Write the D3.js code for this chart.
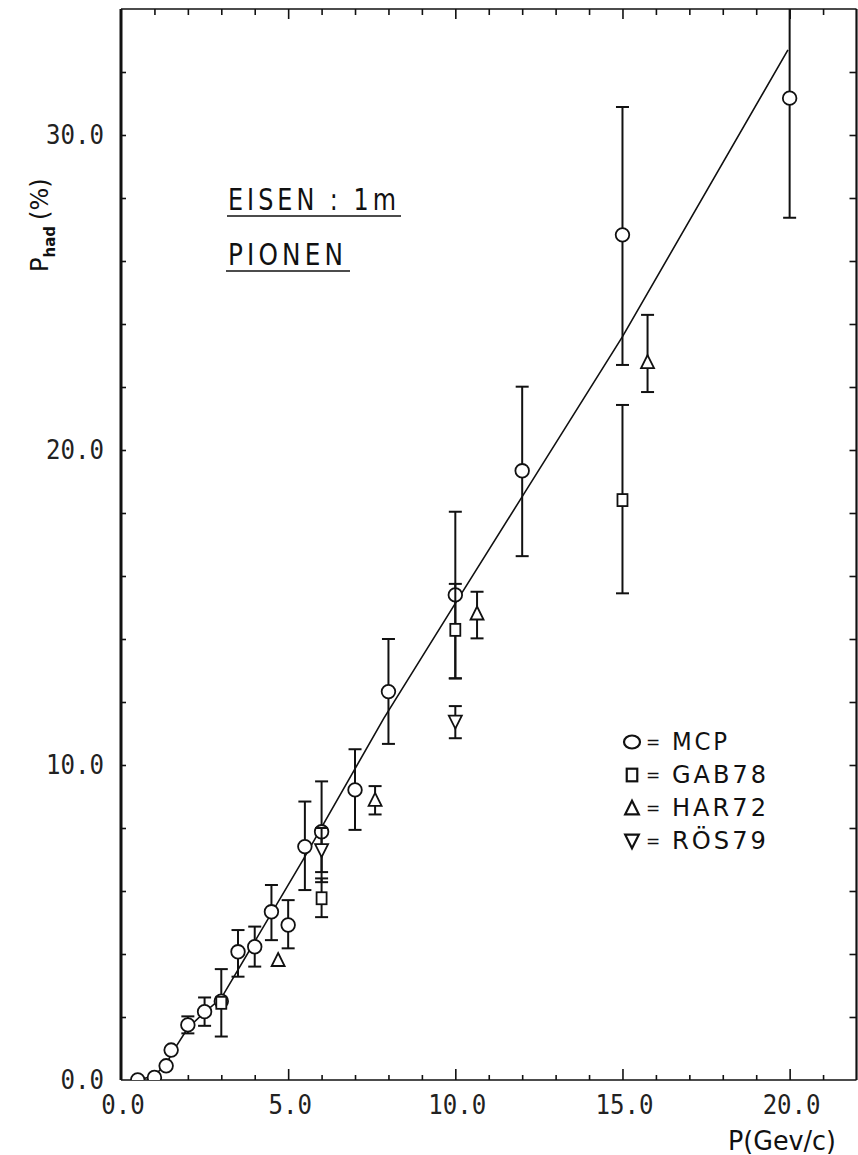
<!DOCTYPE html>
<html>
<head>
<meta charset="utf-8">
<script src="https://cdn.jsdelivr.net/npm/d3@7"></script>
<style>
  body { margin: 0; background: #fff; }
</style>
</head>
<body>
<div id="chart"></div>
<script>
// MCP (open circles)
const mcpX  = [0.5, 1.0, 1.35, 1.5, 2.0, 2.5, 3.0, 3.5, 4.0, 4.5, 5.0, 5.5, 6.0, 7.0, 8.0, 10.0, 12.0, 15.0, 20.0];
const mcpY  = [0.0, 0.08, 0.45, 0.95, 1.75, 2.17, 2.5, 4.07, 4.23, 5.34, 4.92, 7.41, 7.88, 9.21, 12.33, 15.4, 19.34, 26.83, 31.17];
const mcpLo = [null, null, null, null, 1.48, 1.72, 1.38, 3.28, 3.6, 4.44, 4.18, 6.03, 6.28, 7.94, 10.67, 12.75, 16.63, 22.7, 27.37];
const mcpHi = [null, null, null, null, 2.02, 2.62, 3.52, 4.76, 4.87, 6.19, 5.71, 8.84, 9.48, 10.5, 14.0, 18.04, 22.01, 30.89, 35.5];

// GAB78 (squares)
const gabX  = [3.0, 6.0, 10.0, 15.0];
const gabY  = [2.45, 5.77, 14.29, 18.41];
const gabLo = [null, 5.17, 12.75, 15.45];
const gabHi = [null, 6.4, 15.75, 21.43];

// HAR72 (triangles)
const harX  = [4.7, 7.6, 10.65, 15.75];
const harY  = [3.81, 8.89, 14.81, 22.79];
const harLo = [null, 8.43, 14.02, 21.84];
const harHi = [null, 9.33, 15.5, 24.29];

// RÖS79 (inverted triangles)
const rosX  = [6.0, 10.0];
const rosY  = [7.3, 11.38];
const rosLo = [6.6, 10.85];
const rosHi = [8.0, 11.87];

// drawn fit curve
const fitX = [0.55, 1.0, 1.35, 1.55, 2.0, 2.5, 3.0, 5.44, 7.86, 10.0, 12.0, 15.0, 19.95];
const fitY = [0.0, 0.15, 0.5, 0.9, 1.65, 2.15, 2.6, 6.98, 11.48, 15.13, 18.52, 23.6, 32.7];

// axes
const xLabels = [0, 5, 10, 15, 20];
const yLabels = [0, 10, 20, 30];
const xMinor = d3.range(1, 22);
const yMinor = d3.range(2, 34, 2);

const legendNames = ["MCP", "GAB78", "HAR72", "RÖS79"];
const legendShapes = ["circle", "square", "up", "down"];

const W = 858, H = 1155;
const mLeft = 121, mRight = 856.5, mTop = 9, mBottom = 1080;

const svg = d3.select("#chart").append("svg")
    .attr("width", W).attr("height", H)
    .style("font-family", "'DejaVu Sans', sans-serif");

const x = d3.scaleLinear().domain([0, 22]).range([mLeft, mRight]);
const y = d3.scaleLinear().domain([0, 34]).range([mBottom, mTop]);

svg.append("defs").append("clipPath").attr("id", "plot")
  .append("rect").attr("x", mLeft).attr("y", mTop)
  .attr("width", mRight - mLeft).attr("height", mBottom - mTop);

// Frame
const frame = svg.append("g").attr("stroke", "#111").attr("fill", "none");
frame.append("line").attr("x1", mLeft).attr("x2", mLeft).attr("y1", mTop).attr("y2", mBottom).attr("stroke-width", 3);
frame.append("line").attr("x1", mLeft).attr("x2", mRight).attr("y1", mBottom).attr("y2", mBottom).attr("stroke-width", 1.6);
frame.append("line").attr("x1", mLeft).attr("x2", mRight).attr("y1", mTop).attr("y2", mTop).attr("stroke-width", 1.6);
frame.append("line").attr("x1", mRight).attr("x2", mRight).attr("y1", mTop).attr("y2", mBottom).attr("stroke-width", 2.2);

function styleAxis(g) {
  g.select(".domain").remove();
  g.selectAll(".tick line").attr("stroke", "#111").attr("stroke-width", 1.6);
}

// bottom ticks
svg.append("g").attr("transform", `translate(0,${mBottom})`)
  .call(d3.axisBottom(x).tickValues(xMinor).tickSize(-5).tickFormat(""))
  .call(styleAxis)
  .call(g => g.selectAll(".tick line").filter(d => d % 5 === 0).attr("y2", -11));
// top ticks
svg.append("g").attr("transform", `translate(0,${mTop})`)
  .call(d3.axisTop(x).tickValues(xMinor).tickSize(-6).tickFormat(""))
  .call(styleAxis)
  .call(g => g.selectAll(".tick line").filter(d => d % 5 === 0).attr("y2", 10));
// left ticks
svg.append("g").attr("transform", `translate(${mLeft},0)`)
  .call(d3.axisLeft(y).tickValues(yMinor).tickSize(-5).tickFormat(""))
  .call(styleAxis);
// right ticks
svg.append("g").attr("transform", `translate(${mRight},0)`)
  .call(d3.axisRight(y).tickValues(yMinor).tickSize(-7).tickFormat(""))
  .call(styleAxis);

// tick labels
const fmt = d3.format(".1f");
svg.append("g").selectAll("text").data(xLabels).join("text")
  .attr("x", d => x(d) + 2).attr("y", 1114)
  .attr("text-anchor", "middle")
  .attr("font-family", "'DejaVu Sans Mono', monospace")
  .attr("font-size", 26).attr("fill", "#222")
  .attr("textLength", d => fmt(d).length * 14.5).attr("lengthAdjust", "spacingAndGlyphs")
  .text(d => fmt(d));
svg.append("g").selectAll("text").data(yLabels).join("text")
  .attr("x", 104).attr("y", d => y(d) + 9)
  .attr("text-anchor", "end")
  .attr("font-family", "'DejaVu Sans Mono', monospace")
  .attr("font-size", 26).attr("fill", "#222")
  .attr("textLength", d => fmt(d).length * 14.5).attr("lengthAdjust", "spacingAndGlyphs")
  .text(d => fmt(d));

// axis titles
svg.append("text").attr("x", 728).attr("y", 1150)
  .attr("font-size", 26).attr("fill", "#111")
  .attr("textLength", 108).attr("lengthAdjust", "spacingAndGlyphs")
  .text("P(Gev/c)");

const yt = svg.append("text")
  .attr("transform", "translate(48,272) rotate(-90)")
  .attr("font-size", 24).attr("fill", "#111");
yt.append("tspan").text("P");
yt.append("tspan").attr("font-size", 15).attr("font-weight", "bold").attr("dy", 7).text("had");
yt.append("tspan").attr("dy", -7).attr("dx", 6).text("(%)");

// annotation
function label(txt, x0, yb, len, ul) {
  svg.append("text").attr("x", x0).attr("y", yb)
    .attr("font-size", 30).attr("fill", "#111")
    .style("letter-spacing", "5px")
    .attr("textLength", len).attr("lengthAdjust", "spacingAndGlyphs")
    .text(txt);
  svg.append("line").attr("x1", ul[0]).attr("x2", ul[1]).attr("y1", yb + 6).attr("y2", yb + 6)
    .attr("stroke", "#111").attr("stroke-width", 1.6);
}
label("EISEN : 1m", 228, 210, 172, [227, 401]);
label("PIONEN", 228, 265, 119, [226, 350]);

// fit curve
const plot = svg.append("g").attr("clip-path", "url(#plot)");
const fitData = fitX.map((v, i) => [v, fitY[i]]);
plot.append("path").datum(fitData)
  .attr("fill", "none").attr("stroke", "#111").attr("stroke-width", 1.6)
  .attr("d", d3.line().x(d => x(d[0])).y(d => y(d[1])));

// series
function rows(xs, ys, lo, hi) {
  return xs.map((v, i) => ({ x: v, y: ys[i], lo: lo[i], hi: hi[i] }));
}
const series = [
  { shape: "circle", data: rows(mcpX, mcpY, mcpLo, mcpHi) },
  { shape: "square", data: rows(gabX, gabY, gabLo, gabHi) },
  { shape: "up",     data: rows(harX, harY, harLo, harHi) },
  { shape: "down",   data: rows(rosX, rosY, rosLo, rosHi) }
];

function drawShape(g, shape, cx, cy, s) {
  if (shape === "circle") {
    g.append("ellipse").attr("cx", cx).attr("cy", cy).attr("rx", 6.8 * s).attr("ry", 6.8 * s);
  } else if (shape === "square") {
    g.append("rect").attr("x", cx - 5 * s).attr("y", cy - 6 * s).attr("width", 10 * s).attr("height", 12 * s);
  } else if (shape === "up") {
    g.append("path").attr("d", `M${cx},${cy - 7 * s}L${cx + 6.5 * s},${cy + 6 * s}L${cx - 6.5 * s},${cy + 6 * s}Z`);
  } else {
    g.append("path").attr("d", `M${cx},${cy + 7 * s}L${cx + 6.5 * s},${cy - 6 * s}L${cx - 6.5 * s},${cy - 6 * s}Z`);
  }
}

series.forEach(s => {
  const g = plot.append("g").attr("stroke", "#111").attr("stroke-width", 2).attr("fill", "none");
  s.data.filter(d => d.lo != null).forEach(d => {
    const px = x(d.x);
    g.append("line").attr("x1", px).attr("x2", px).attr("y1", y(d.lo)).attr("y2", y(d.hi));
    [d.lo, d.hi].forEach(v => {
      g.append("line").attr("x1", px - 6.5).attr("x2", px + 6.5).attr("y1", y(v)).attr("y2", y(v));
    });
  });
  const m = plot.append("g").attr("stroke", "#111").attr("stroke-width", 1.8).attr("fill", "#fff");
  s.data.forEach(d => drawShape(m, s.shape, x(d.x), y(d.y), 1));
});

// legend
const lg = svg.append("g");
legendNames.forEach((name, i) => {
  const cy = 742 + i * 33;
  const sg = lg.append("g").attr("stroke", "#111").attr("stroke-width", 2.2).attr("fill", "#fff");
  if (legendShapes[i] === "circle") {
    sg.append("ellipse").attr("cx", 632).attr("cy", cy).attr("rx", 8).attr("ry", 6.5);
  } else {
    drawShape(sg, legendShapes[i], 632, cy, 1.05);
  }
  lg.append("text").attr("x", 646).attr("y", cy + 6).attr("font-size", 17).attr("fill", "#111").text("=");
  lg.append("text").attr("x", 672).attr("y", cy + 8)
    .attr("font-size", 24).attr("fill", "#111")
    .style("letter-spacing", "3px")
    .attr("textLength", name.length === 3 ? 58 : 97).attr("lengthAdjust", "spacingAndGlyphs")
    .text(name);
});
</script>
</body>
</html>
